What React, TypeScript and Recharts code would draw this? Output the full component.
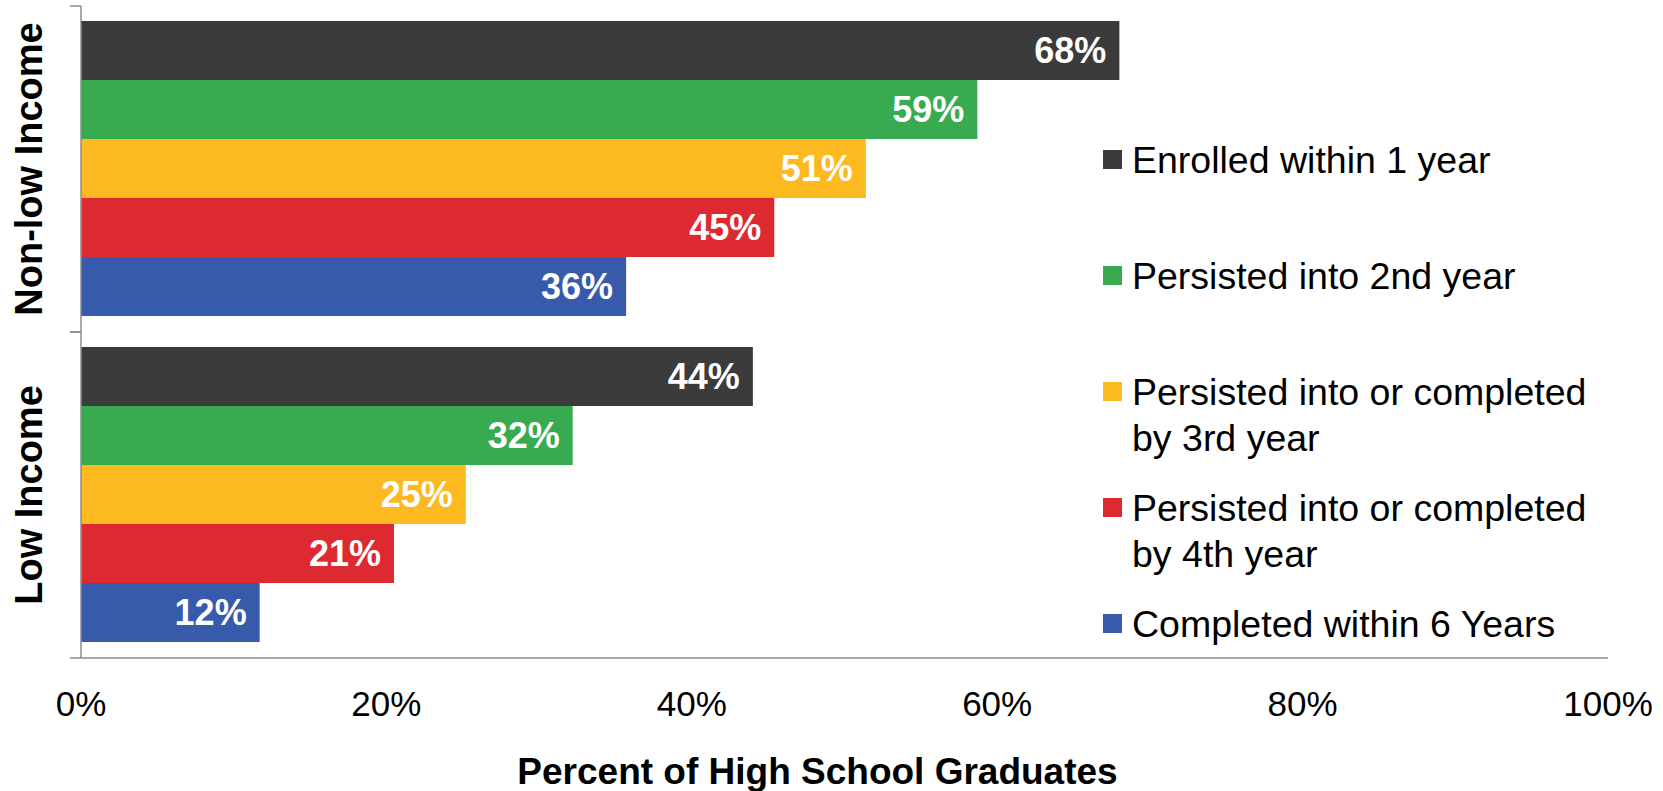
import React from 'react';
import { BarChart, Bar, XAxis, YAxis, LabelList } from 'recharts';

const groups = ['Non-low Income', 'Low Income'];
const enrolled = [68, 44];
const persisted2nd = [58.7, 32.2];
const persisted3rd = [51.4, 25.2];
const persisted4th = [45.4, 20.5];
const completed6 = [35.7, 11.7];
const xTicks = [0, 20, 40, 60, 80, 100];

const series = [
  { key: 'enrolled', name: 'Enrolled within 1 year', lines: ['Enrolled within 1 year'], color: '#3b3b3b', values: enrolled },
  { key: 'p2', name: 'Persisted into 2nd year', lines: ['Persisted into 2nd year'], color: '#38ab50', values: persisted2nd },
  { key: 'p3', name: 'Persisted into or completed by 3rd year', lines: ['Persisted into or completed', 'by 3rd year'], color: '#fdb920', values: persisted3rd },
  { key: 'p4', name: 'Persisted into or completed by 4th year', lines: ['Persisted into or completed', 'by 4th year'], color: '#dd2a31', values: persisted4th },
  { key: 'c6', name: 'Completed within 6 Years', lines: ['Completed within 6 Years'], color: '#375aab', values: completed6 },
];

const data = groups.map((g, i) => {
  const row: any = { group: g };
  series.forEach(s => { row[s.key] = s.values[i]; });
  return row;
});

const AXIS = '#8c8c8c';
const HALF_BAND = 163;

const GroupTick = (props: any) => {
  const { x, y, payload } = props;
  return (
    <g>
      <line x1={x - 11} x2={x} y1={y - HALF_BAND} y2={y - HALF_BAND} stroke={AXIS} strokeWidth={1.5} />
      <line x1={x - 11} x2={x} y1={y + HALF_BAND} y2={y + HALF_BAND} stroke={AXIS} strokeWidth={1.5} />
      <text x={x - 39} y={y} transform={`rotate(-90 ${x - 39} ${y})`} textAnchor="middle"
        fontSize={38} fontWeight="bold" fill="#000">{payload.value}</text>
    </g>
  );
};

// legend drawn as an overlay so it doesn't eat into the plot width
const LegendBox = () => (
  <div style={{ position: 'absolute', left: 1103, top: 137, width: 540 }}>
    {series.map((s, i) => (
      <div key={s.key} style={{ position: 'absolute', left: 0, top: i * 116, display: 'flex', alignItems: 'flex-start' }}>
        <div style={{ width: 19, height: 19, background: s.color, marginTop: 13, marginRight: 10 }} />
        <div style={{ fontSize: 37.5, lineHeight: '46px', color: '#000', whiteSpace: 'nowrap' }}>
          {s.lines.map(l => <div key={l}>{l}</div>)}
        </div>
      </div>
    ))}
  </div>
);

export default function App() {
  return (
    <div style={{ position: 'absolute', left: 0, top: 0, width: 1663, height: 791, background: '#fff', fontFamily: '"Liberation Sans", Arial, sans-serif' }}>
      <BarChart width={1663} height={791} data={data} layout="vertical"
        margin={{ top: 6, right: 55, bottom: 0, left: 0 }} barCategoryGap={15} barGap={0}>
        <XAxis type="number" domain={[0, 100]} ticks={xTicks} tickFormatter={(v: number) => `${v}%`}
          tickLine={false} tickSize={0} tickMargin={33} height={133}
          axisLine={{ stroke: AXIS, strokeWidth: 1.5 }}
          tick={{ fontSize: 35, fill: '#000' }}
          label={{ value: 'Percent of High School Graduates', position: 'insideBottom', offset: 7, dx: -27, fontSize: 37, fontWeight: 'bold', fill: '#000' }} />
        <YAxis type="category" dataKey="group" width={81} tickLine={false} tickSize={0} tickMargin={0}
          axisLine={{ stroke: AXIS, strokeWidth: 1.5 }} tick={<GroupTick />} />
        {series.map(s => (
          <Bar key={s.key} dataKey={s.key} name={s.name} fill={s.color} isAnimationActive={false}>
            <LabelList dataKey={s.key} position="insideRight" offset={13} fill="#fff" fontSize={36} fontWeight="bold"
              formatter={(v: any) => `${Math.round(Number(v))}%`} />
          </Bar>
        ))}
      </BarChart>
      <LegendBox />
    </div>
  );
}
